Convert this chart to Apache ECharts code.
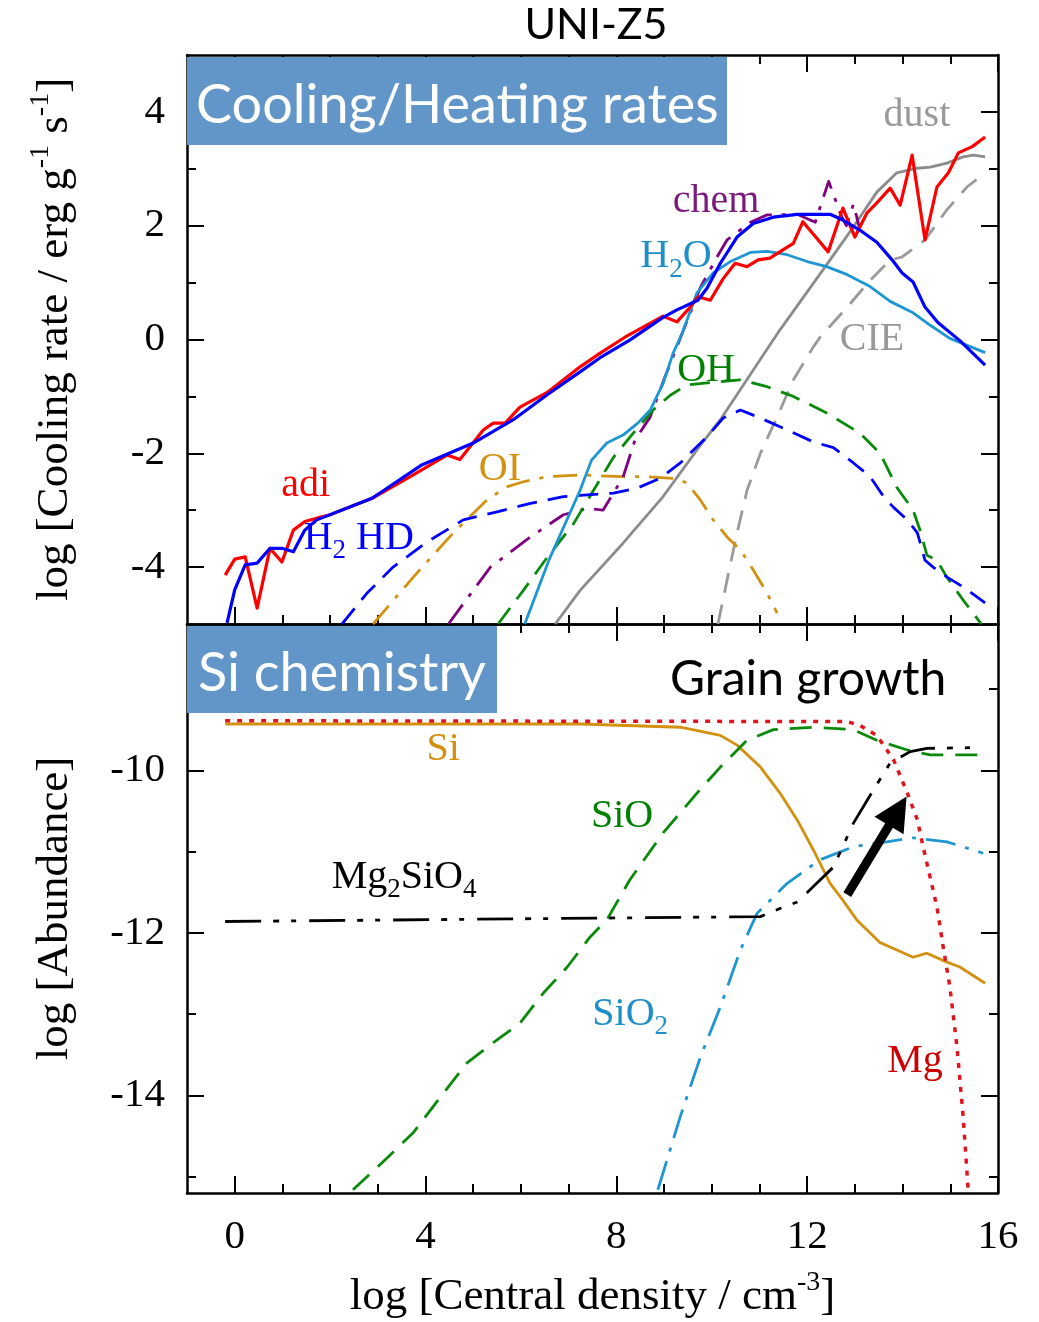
<!DOCTYPE html>
<html><head><meta charset="utf-8">
<script src="https://cdn.jsdelivr.net/npm/echarts@6/dist/echarts.min.js"></script>
<style>html,body{margin:0;padding:0;background:#fff}#c{width:1039px;height:1322px}</style>
</head><body><div id="c"></div>
<script>
// ---------- tick values ----------
const xMajor = [0, 4, 8, 12, 16];
const xMinor = [1, 2, 3, 5, 6, 7, 9, 10, 11, 13, 14, 15];
const topYMajor = [-4, -2, 0, 2, 4];
const topYMinor = [-3, -1, 1, 3];
const botYMajor = [-14, -12, -10];
const botYMinor = [-15, -13, -11, -9];

// ---------- top panel: cooling / heating rates ----------
const adi = [[-0.2,-4.14],[0.0,-3.86],[0.22,-3.82],[0.47,-4.72],[0.74,-3.67],[0.99,-3.91],[1.23,-3.35],[1.47,-3.2],[1.72,-3.14],[2.0,-3.08],[2.88,-2.79],[3.68,-2.41],[4.45,-2.03],[4.72,-2.11],[5.21,-1.59],[5.42,-1.47],[5.67,-1.47],[5.98,-1.19],[6.55,-0.93],[7.24,-0.48],[7.66,-0.24],[8.18,0.04],[8.98,0.41],[9.27,0.31],[9.55,0.57],[9.71,0.75],[9.97,0.69],[10.24,1.07],[10.49,1.34],[10.74,1.28],[10.97,1.4],[11.22,1.43],[11.5,1.58],[11.71,1.69],[11.91,2.07],[12.44,1.54],[12.75,2.31],[13.0,1.8],[13.25,2.22],[13.46,2.4],[13.74,2.66],[13.95,2.36],[14.2,3.24],[14.47,1.75],[14.72,2.68],[14.96,2.93],[15.17,3.28],[15.46,3.39],[15.73,3.56]];
const h2 = [[-0.16,-4.98],[0.0,-4.4],[0.22,-3.96],[0.47,-3.93],[0.74,-3.67],[0.99,-3.67],[1.23,-3.73],[1.47,-3.35],[1.72,-3.17],[2.88,-2.79],[3.93,-2.2],[5.0,-1.82],[5.84,-1.41],[6.55,-0.97],[7.24,-0.57],[7.66,-0.32],[8.28,-0.01],[8.98,0.39],[9.27,0.52],[9.71,0.69],[9.9,0.9],[10.18,1.34],[10.53,1.8],[10.87,2.04],[11.29,2.15],[11.79,2.2],[12.48,2.2],[12.75,2.1],[13.11,1.92],[13.46,1.71],[13.78,1.4],[13.99,1.17],[14.22,1.01],[14.47,0.57],[14.74,0.3],[15.2,-0.02],[15.73,-0.45]];
const hd = [[2.25,-5.0],[2.77,-4.46],[3.32,-4.0],[4.03,-3.56],[4.79,-3.17],[5.5,-3.03],[6.2,-2.88],[6.89,-2.76],[7.24,-2.74],[7.94,-2.7],[8.44,-2.61],[8.92,-2.44],[9.34,-2.17],[9.9,-1.71],[10.24,-1.38],[10.6,-1.24],[11.02,-1.38],[11.58,-1.59],[12.13,-1.8],[12.55,-1.9],[12.97,-2.17],[13.32,-2.41],[13.6,-2.76],[13.81,-2.95],[14.1,-3.17],[14.31,-3.4],[14.47,-3.88],[14.64,-4.0],[14.94,-4.18],[15.27,-4.35],[15.73,-4.63]];
const oi = [[2.9,-5.0],[3.74,-4.18],[4.58,-3.4],[5.29,-2.82],[5.7,-2.59],[6.05,-2.5],[6.55,-2.41],[7.24,-2.38],[8.12,-2.41],[8.64,-2.41],[9.19,-2.44],[9.48,-2.52],[9.76,-2.82],[10.03,-3.17],[10.32,-3.47],[10.6,-3.7],[10.87,-4.05],[11.16,-4.46],[11.37,-4.81]];
const chem = [[4.48,-5.0],[5.36,-4.0],[6.2,-3.47],[6.89,-3.08],[7.39,-2.97],[7.72,-3.0],[8.14,-2.42],[8.39,-1.77],[8.71,-1.36],[9.0,-0.7],[9.38,0.11],[9.76,0.91],[10.11,1.45],[10.32,1.75],[10.81,2.06],[11.16,2.19],[11.79,2.2],[12.17,2.06],[12.3,2.4],[12.45,2.78],[12.55,2.55],[12.7,2.2],[12.82,2.0],[12.97,2.38],[13.1,1.95]];
const h2o = [[6.08,-5.0],[6.6,-3.85],[7.24,-2.65],[7.48,-2.12],[7.8,-1.82],[8.14,-1.68],[8.45,-1.47],[8.71,-1.24],[8.98,-0.77],[9.19,-0.24],[9.38,0.11],[9.69,0.82],[10.03,1.17],[10.39,1.37],[10.81,1.53],[11.16,1.55],[11.58,1.49],[12.0,1.37],[12.41,1.28],[12.84,1.14],[13.32,0.93],[13.74,0.67],[14.22,0.47],[14.51,0.29],[14.99,0.02],[15.73,-0.23]];
const oh = [[5.52,-5.0],[6.05,-4.41],[6.55,-3.83],[7.1,-3.24],[7.45,-2.75],[7.94,-2.07],[8.35,-1.65],[8.77,-1.24],[9.13,-0.98],[9.48,-0.8],[10.03,-0.75],[10.6,-0.71],[11.16,-0.83],[11.71,-1.0],[12.41,-1.29],[13.11,-1.65],[13.53,-2.0],[13.88,-2.6],[14.22,-3.0],[14.37,-3.36],[14.51,-3.79],[14.72,-3.88],[14.93,-4.18],[15.27,-4.58],[15.65,-5.0]];
const dust = [[6.72,-5.0],[7.24,-4.41],[8.14,-3.58],[8.98,-2.76],[9.76,-1.86],[10.18,-1.41],[10.6,-0.88],[11.43,0.17],[12.38,1.28],[12.97,1.98],[13.46,2.59],[13.88,2.93],[14.3,3.01],[14.58,3.03],[14.93,3.1],[15.27,3.21],[15.48,3.24],[15.73,3.21]];
const cie = [[10.13,-5.0],[10.32,-4.23],[10.53,-3.4],[10.74,-2.65],[11.02,-2.0],[11.37,-1.36],[11.71,-0.71],[12.13,-0.13],[12.27,0.04],[12.84,0.57],[13.32,1.04],[13.74,1.4],[13.99,1.45],[14.47,1.75],[14.93,2.28],[15.35,2.68],[15.73,2.93]];

// ---------- bottom panel: Si chemistry ----------
const si = [[-0.2,-9.43],[7.24,-9.43],[9.34,-9.47],[10.18,-9.57],[10.53,-9.69],[11.02,-9.96],[11.43,-10.28],[11.79,-10.61],[12.13,-10.98],[12.48,-11.39],[12.75,-11.6],[13.04,-11.84],[13.53,-12.12],[13.88,-12.21],[14.22,-12.3],[14.51,-12.25],[14.93,-12.36],[15.2,-12.42],[15.73,-12.62]];
const mg = [[-0.2,-9.39],[12.84,-9.4],[13.11,-9.45],[13.46,-9.57],[13.81,-9.87],[14.1,-10.28],[14.31,-10.61],[14.43,-10.94],[14.72,-11.68],[14.85,-12.17],[14.99,-12.66],[15.14,-13.4],[15.27,-14.26],[15.37,-15.12],[15.4,-15.3]];
const sio = [[2.48,-15.16],[3.05,-14.85],[3.74,-14.46],[4.31,-14.02],[4.87,-13.6],[5.42,-13.35],[5.98,-13.11],[6.47,-12.74],[6.97,-12.42],[7.45,-12.05],[7.8,-11.84],[8.28,-11.35],[8.98,-10.77],[9.69,-10.28],[10.18,-9.96],[10.74,-9.63],[11.29,-9.5],[12.13,-9.47],[12.97,-9.5],[13.46,-9.63],[14.1,-9.75],[14.58,-9.81],[15.69,-9.81]];
const mg2sio4 = [[-0.2,-11.86],[11.02,-11.8],[11.43,-11.7],[11.79,-11.62],[12.13,-11.43],[12.55,-11.19],[12.97,-10.65],[13.39,-10.24],[13.74,-9.91],[13.95,-9.84],[14.16,-9.77],[14.51,-9.73],[15.62,-9.72]];
const sio2 = [[8.87,-15.16],[9.34,-14.26],[9.76,-13.53],[10.18,-12.91],[10.6,-12.21],[10.95,-11.76],[11.58,-11.39],[12.27,-11.1],[12.97,-10.94],[13.67,-10.88],[14.22,-10.83],[14.93,-10.88],[15.69,-11.02]];
const grainArrow = [[12.84,-11.53],[13.9,-10.5]];

// ---------- annotation anchors (data coords) ----------
const topLabels = [
  {t:'dust', x:14.3, y:3.94, c:'#999999'},
  {t:'chem', x:10.09, y:2.42, c:'#7a1a7a'},
  {t:'H{s|2}O', x:9.25, y:1.45, c:'#1e8fc8'},
  {t:'CIE', x:13.36, y:0.0, c:'#999999'},
  {t:'OH', x:9.88, y:-0.55, c:'#008000'},
  {t:'adi', x:1.49, y:-2.56, c:'#ff0000'},
  {t:'OI', x:5.56, y:-2.29, c:'#d4900f'},
  {t:'H{s|2} HD', x:2.6, y:-3.5, c:'#0000ff'}
];
const botLabels = [
  {t:'Si', x:4.37, y:-9.75, c:'#d4900f'},
  {t:'SiO', x:8.12, y:-10.57, c:'#008000'},
  {t:'Mg{s|2}SiO{s|4}', x:3.55, y:-11.32, c:'#000000'},
  {t:'SiO{s|2}', x:8.29, y:-13.0, c:'#1e8fc8'},
  {t:'Mg', x:14.26, y:-13.58, c:'#cc0000'}
];

const SERIF = "'Liberation Serif', 'DejaVu Serif', serif";
const SANS = "Lato, 'Open Sans', sans-serif";
const BLK = '#000';

function xAxis(grid, pos, vals, len, line, label) {
  return {
    type: 'value', gridIndex: grid, position: pos, min: -1, max: 16,
    axisLine: {show: line, onZero: false, lineStyle: {color: BLK, width: 2.5}},
    axisTick: {show: true, inside: true, length: len, customValues: vals, lineStyle: {color: BLK, width: 2}},
    axisLabel: label ? {show: true, customValues: xMajor, margin: 24, fontFamily: SERIF, fontSize: 41, color: BLK} : {show: false},
    splitLine: {show: false}
  };
}
function yAxis(grid, pos, vals, len, line, label, min, max) {
  return {
    type: 'value', gridIndex: grid, position: pos, min: min, max: max,
    axisLine: {show: line, onZero: false, lineStyle: {color: BLK, width: 2.5}},
    axisTick: {show: true, inside: true, length: len, customValues: vals, lineStyle: {color: BLK, width: 2}},
    axisLabel: label ? {show: true, customValues: label, margin: 22, fontFamily: SERIF, fontSize: 41, color: BLK} : {show: false},
    splitLine: {show: false}
  };
}

const xAxes = [
  xAxis(0, 'bottom', xMajor, 17, true, false),
  xAxis(0, 'bottom', xMinor, 9, false, false),
  xAxis(0, 'top', xMajor, 17, true, false),
  xAxis(0, 'top', xMinor, 9, false, false),
  xAxis(1, 'bottom', xMajor, 17, true, true),
  xAxis(1, 'bottom', xMinor, 9, false, false),
  xAxis(1, 'top', xMajor, 17, true, false),
  xAxis(1, 'top', xMinor, 9, false, false)
];
const supRich = {sup: {fontSize: 28, fontFamily: SERIF, verticalAlign: 'top', lineHeight: 28}};
Object.assign(xAxes[4], {
  name: 'log [Central density / cm{sup|-3}]', nameLocation: 'middle', nameGap: 76,
  nameTextStyle: {fontFamily: SERIF, fontSize: 45, color: BLK, lineHeight: 56, rich: supRich}
});
const yAxes = [
  yAxis(0, 'left', topYMajor, 17, true, topYMajor, -5, 5),
  yAxis(0, 'left', topYMinor, 9, false, null, -5, 5),
  yAxis(0, 'right', topYMajor, 17, true, null, -5, 5),
  yAxis(0, 'right', topYMinor, 9, false, null, -5, 5),
  yAxis(1, 'left', botYMajor, 17, true, botYMajor, -15.2, -8.2),
  yAxis(1, 'left', botYMinor, 9, false, null, -15.2, -8.2),
  yAxis(1, 'right', botYMajor, 17, true, null, -15.2, -8.2),
  yAxis(1, 'right', botYMinor, 9, false, null, -15.2, -8.2)
];
Object.assign(yAxes[0], {
  name: 'log [Cooling rate / erg g{sup|-1} s{sup|-1}]', nameLocation: 'middle', nameGap: 104, nameRotate: 90,
  nameTextStyle: {fontFamily: SERIF, fontSize: 45, color: BLK, lineHeight: 56, rich: supRich}
});
Object.assign(yAxes[4], {
  name: 'log [Abundance]', nameLocation: 'middle', nameGap: 104, nameRotate: 90,
  nameTextStyle: {fontFamily: SERIF, fontSize: 45, color: BLK, lineHeight: 56}
});

function ln(data, color, width, dash, grid, z) {
  return {
    type: 'line', data: data, xAxisIndex: grid ? 4 : 0, yAxisIndex: grid ? 4 : 0,
    showSymbol: false, symbol: 'none', smooth: false, z: z || 2, silent: true,
    lineStyle: {color: color, width: width, type: dash || 'solid', cap: 'butt', join: 'round'}
  };
}

const series = [
  ln(cie, '#9a9a9a', 2.8, [20, 12], 0),
  ln(dust, '#8c8c8c', 2.8, 'solid', 0),
  ln(oi, '#d4900f', 2.8, [24, 10, 4, 10], 0),
  ln(chem, '#800080', 2.8, [24, 10, 4, 10], 0),
  ln(oh, '#0a8a0a', 2.8, [20, 11], 0),
  ln(hd, '#0000ff', 2.8, [20, 11], 0),
  ln(h2o, '#1e96d2', 2.8, 'solid', 0),
  ln(adi, '#ff0000', 3.2, 'solid', 0),
  ln(h2, '#0000ff', 3.2, 'solid', 0),
  ln(si, '#d4900f', 2.8, 'solid', 1),
  ln(sio, '#0a8a0a', 2.8, [22, 12], 1),
  ln(sio2, '#1e96d2', 2.8, [30, 10, 4, 10], 1),
  ln(mg2sio4, '#000000', 2.8, [36, 12, 6, 12, 5, 13], 1),
  ln(mg, '#e0141e', 3.5, [5, 7], 1),
  {
    type: 'lines', coordinateSystem: 'cartesian2d', xAxisIndex: 4, yAxisIndex: 4, z: 5, silent: true,
    symbol: ['none', 'triangle'], symbolSize: [1, 34],
    lineStyle: {color: '#000', width: 9, opacity: 1, curveness: 0},
    data: [{coords: grainArrow}]
  }
];

const chart = echarts.init(document.getElementById('c'), null, {renderer: 'canvas'});
chart.setOption({
  animation: false,
  backgroundColor: '#fff',
  grid: [
    {left: 187, top: 55, width: 811, height: 569, containLabel: false, outerBoundsMode: 'none'},
    {left: 187, top: 624, width: 811, height: 569, containLabel: false, outerBoundsMode: 'none'}
  ],
  xAxis: xAxes,
  yAxis: yAxes,
  series: series
});

// fit sans-serif box captions to the widths measured on the reference
const cv = document.createElement('canvas').getContext('2d');
function fit(text, target) {
  cv.font = '100px ' + SANS;
  return Math.round(100 * target / cv.measureText(text).width);
}
const subRich = (size, color) => ({s: {fontSize: Math.round(size * 0.68), fontFamily: SERIF, fill: color, verticalAlign: 'bottom', lineHeight: Math.round(size * 0.68)}});

const g = [];
g.push({type: 'text', z: 100, style: {text: 'UNI-Z5', x: 596, y: 25, align: 'center', verticalAlign: 'middle', fill: '#000', font: fit('UNI-Z5', 143) + 'px ' + SANS}});
g.push({type: 'rect', z: 90, shape: {x: 187, y: 57, width: 540, height: 88}, style: {fill: '#6396c8'}});
g.push({type: 'text', z: 100, style: {text: 'Cooling/Heating rates', x: 196, y: 106, align: 'left', verticalAlign: 'middle', fill: '#fff', font: fit('Cooling/Heating rates', 518) + 'px ' + SANS}});
g.push({type: 'rect', z: 90, shape: {x: 187, y: 626, width: 310, height: 87}, style: {fill: '#6396c8'}});
g.push({type: 'text', z: 100, style: {text: 'Si chemistry', x: 198, y: 674, align: 'left', verticalAlign: 'middle', fill: '#fff', font: fit('Si chemistry', 287) + 'px ' + SANS}});
g.push({type: 'text', z: 100, style: {text: 'Grain growth', x: 670, y: 680, align: 'left', verticalAlign: 'middle', fill: '#000', font: fit('Grain growth', 278) + 'px ' + SANS}});

function addLabels(list, seriesIndex) {
  list.forEach(function (L) {
    const p = chart.convertToPixel({seriesIndex: seriesIndex}, [L.x, L.y]);
    g.push({type: 'text', z: 100, style: {
      text: L.t, x: p[0], y: p[1], align: 'center', verticalAlign: 'middle',
      fill: L.c, fontFamily: SERIF, fontSize: 40, lineHeight: 52, rich: subRich(40, L.c)
    }});
  });
}
addLabels(topLabels, 0);
addLabels(botLabels, 9);
chart.setOption({graphic: g});
</script></body></html>
